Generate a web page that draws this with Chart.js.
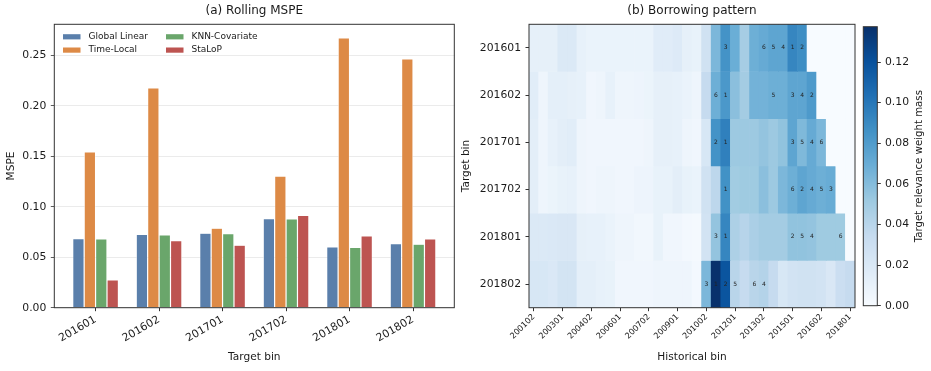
<!DOCTYPE html>
<html>
<head>
<meta charset="utf-8">
<script src="https://cdn.jsdelivr.net/npm/chart.js@4.4.1/dist/chart.umd.min.js"></script>
<style>
  body { margin: 0; background: #fff; }
  #wrap { position: relative; width: 931px; height: 371px; }
  canvas { position: absolute; top: 0; }
</style>
</head>
<body>
<div id="wrap">
  <canvas id="mspe" width="465" height="371" style="left:0"></canvas>
  <canvas id="borrow" width="405" height="371" style="left:455px"></canvas>
  <canvas id="cbar" width="76" height="371" style="left:855px"></canvas>
</div>
<script>
// ---- panel (a) data
const targets = ['201601', '201602', '201701', '201702', '201801', '201802'];
const globalLinear = [0.0685, 0.0728, 0.0738, 0.0884, 0.0603, 0.0636];
const timeLocal = [0.1546, 0.2179, 0.0788, 0.1305, 0.2675, 0.2467];
const knnCovariate = [0.0682, 0.0722, 0.0735, 0.0881, 0.0599, 0.0629];
const staLoP = [0.0275, 0.0666, 0.0619, 0.0914, 0.0712, 0.0682];
const mspeTicks = [0, 0.05, 0.10, 0.15, 0.20, 0.25];

// ---- panel (b) data
const histBins = ['200102', '200201', '200202', '200301', '200302', '200401', '200402', '200501', '200502',
  '200601', '200602', '200701', '200702', '200801', '200802', '200901', '200902', '201001', '201002',
  '201101', '201102', '201201', '201202', '201301', '201302', '201401', '201402', '201501', '201502',
  '201601', '201602', '201701', '201702', '201801'];
const weights = [
  [.012, .012, .012, .019, .019, .011, .009, .009, .009, .009, .009, .009, .009, .016, .016, .018, .012,
   .010, .027, .063, .085, .069, .048, .068, .071, .074, .074, .092, .088, 0, 0, 0, 0, 0],
  [.015, .006, .013, .013, .012, .011, .005, .006, .011, .006, .006, .007, .008, .012, .012, .011, .009,
   .006, .034, .068, .082, .058, .049, .066, .066, .068, .068, .074, .074, .081, 0, 0, 0, 0],
  [.014, .006, .011, .014, .015, .006, .005, .005, .005, .005, .005, .005, .006, .012, .012, .011, .006,
   .005, .022, .085, .095, .052, .052, .052, .055, .052, .056, .074, .062, .071, .063, 0, 0, 0],
  [.014, .006, .008, .010, .011, .006, .005, .006, .006, .005, .005, .007, .007, .010, .010, .014, .010,
   .009, .027, .038, .086, .050, .051, .051, .058, .052, .063, .068, .074, .071, .068, .070, 0, 0],
  [.019, .019, .020, .021, .021, .012, .011, .011, .009, .006, .006, .004, .004, .010, .005, .005, .003,
   .002, .026, .055, .092, .045, .041, .046, .049, .049, .049, .056, .056, .055, .051, .051, .051, 0],
  [.022, .022, .020, .025, .025, .013, .013, .011, .010, .005, .005, .005, .005, .006, .006, .006, .006,
   .003, .063, .137, .118, .040, .034, .040, .042, .034, .022, .026, .027, .027, .026, .021, .031, .034]
];
// historical bins ranked 1..6 for each target bin
const topBins = [
  ['201501', '201502', '201102', '201402', '201401', '201302'],
  ['201102', '201601', '201501', '201502', '201401', '201101'],
  ['201102', '201101', '201501', '201601', '201502', '201602'],
  ['201102', '201502', '201701', '201601', '201602', '201501'],
  ['201102', '201501', '201101', '201601', '201502', '201702'],
  ['201101', '201102', '201002', '201302', '201201', '201301']
];
const vmax = 0.1374;
const weightTicks = [0, 0.02, 0.04, 0.06, 0.08, 0.10, 0.12];

Chart.defaults.font.family = '"DejaVu Sans", sans-serif';
Chart.defaults.color = '#1a1a1a';

const bluesStops = ['#f7fbff', '#deebf7', '#c6dbef', '#9ecae1', '#6baed6', '#4292c6', '#2171b5', '#08519c', '#08306b'];
function hexRgb(h) { return [1, 3, 5].map(i => parseInt(h.slice(i, i + 2), 16)); }
function bluesAt(t) {
  t = Math.max(0, Math.min(1, t)) * 8;
  const i = Math.min(7, Math.floor(t)), f = t - i;
  const a = hexRgb(bluesStops[i]), b = hexRgb(bluesStops[i + 1]);
  return 'rgb(' + a.map((v, j) => Math.round(v + (b[j] - v) * f)).join(',') + ')';
}

const frame = {
  id: 'frame',
  afterDatasetsDraw(chart) {
    const {ctx, chartArea: a} = chart;
    ctx.save();
    ctx.strokeStyle = '#333';
    ctx.lineWidth = 1;
    ctx.strokeRect(a.left, a.top, a.right - a.left, a.bottom - a.top);
    ctx.restore();
  }
};

const mspeLegend = {
  id: 'mspeLegend',
  afterDraw(chart) {
    const {ctx, chartArea: a} = chart;
    ctx.save();
    ctx.font = '9px "DejaVu Sans"';
    ctx.textBaseline = 'middle';
    chart.data.datasets.forEach((ds, i) => {
      const x = a.left + 8.7 + Math.floor(i / 2) * 103;
      const y = a.top + 12.5 + (i % 2) * 13.3;
      ctx.fillStyle = ds.backgroundColor;
      ctx.fillRect(x, y - 2.6, 17.5, 5.2);
      ctx.fillStyle = '#1a1a1a';
      ctx.fillText(ds.label, x + 25.5, y);
    });
    ctx.restore();
  }
};

const rankLabels = {
  id: 'rankLabels',
  afterDatasetsDraw(chart) {
    const {ctx, scales: {x, y}} = chart;
    ctx.save();
    ctx.font = '6px "DejaVu Sans"';
    ctx.fillStyle = '#222';
    ctx.textAlign = 'center';
    ctx.textBaseline = 'middle';
    topBins.forEach((bins, k) => bins.forEach((b, r) => {
      ctx.fillText(String(r + 1), x.getPixelForValue(histBins.indexOf(b)), y.getPixelForValue(k + 0.5));
    }));
    ctx.restore();
  }
};

const cbarLabel = {
  id: 'cbarLabel',
  afterDraw(chart) {
    const {ctx, chartArea: a} = chart;
    ctx.save();
    ctx.translate(64, (a.top + a.bottom) / 2);
    ctx.rotate(-Math.PI / 2);
    ctx.font = '10.2px "DejaVu Sans"';
    ctx.fillStyle = '#1a1a1a';
    ctx.textAlign = 'center';
    ctx.textBaseline = 'middle';
    ctx.fillText('Target relevance weight mass', 0, 0);
    ctx.restore();
  }
};

const titleOpts = (text) => ({
  display: true, text: text, fullSize: false,
  font: {size: 12, weight: 'normal'}, color: '#1a1a1a',
  padding: {top: 3.6, bottom: 6.3}
});

// ---- (a) Rolling MSPE
const series = [
  ['Global Linear', globalLinear, '#5a7fab'],
  ['Time-Local', timeLocal, '#dd8a46'],
  ['KNN-Covariate', knnCovariate, '#6aa66b'],
  ['StaLoP', staLoP, '#bd5451']
];

new Chart(document.getElementById('mspe'), {
  type: 'bar',
  data: {
    datasets: series.map(([name, vals, col]) => ({
      label: name,
      data: targets.map((t, i) => ({x: i, y: vals[i]})),
      backgroundColor: col
    }))
  },
  options: {
    responsive: false,
    animation: false,
    layout: {padding: {left: 0, right: 10.7, top: 0, bottom: 0}},
    datasets: {bar: {categoryPercentage: 0.72, barPercentage: 1, borderColor: '#fff', borderWidth: 0.6}},
    plugins: {
      legend: {display: false},
      tooltip: {enabled: false},
      title: titleOpts('(a) Rolling MSPE')
    },
    scales: {
      x: {
        type: 'linear', min: -0.65, max: 5.65, offset: false,
        afterBuildTicks: s => { s.ticks = targets.map((t, i) => ({value: i})); },
        afterFit: s => { s.height = 63.3; },
        ticks: {callback: v => targets[v], minRotation: 30, maxRotation: 30, font: {size: 10.8}, padding: 2},
        grid: {offset: false, drawOnChartArea: false, tickLength: 3.5, tickColor: '#333'},
        border: {display: false},
        title: {display: true, text: 'Target bin', font: {size: 10.6}, padding: {top: 0, bottom: 7.5}}
      },
      y: {
        min: 0, max: 0.281,
        afterBuildTicks: s => { s.ticks = mspeTicks.map(v => ({value: v})); },
        afterFit: s => { s.width = 54.3; },
        ticks: {callback: v => v.toFixed(2), font: {size: 10.8}, padding: 4.5},
        grid: {color: '#e6e6e6', lineWidth: 0.8, tickLength: 3.5, tickColor: '#333'},
        border: {display: false},
        title: {display: true, text: 'MSPE', font: {size: 10.6}, padding: {top: 4.5, bottom: 0}}
      }
    }
  },
  plugins: [frame, mspeLegend]
});

// ---- (b) Borrowing pattern
new Chart(document.getElementById('borrow'), {
  type: 'bar',
  data: {
    labels: histBins,
    datasets: targets.map((row, k) => ({
      label: row,
      data: histBins.map(() => [k, k + 1]),
      backgroundColor: c => bluesAt(weights[k][c.dataIndex] / vmax),
      grouped: false
    }))
  },
  options: {
    responsive: false,
    animation: false,
    layout: {padding: {left: 0, right: 5, top: 0, bottom: 0}},
    datasets: {bar: {categoryPercentage: 1, barPercentage: 1, borderWidth: 0}},
    plugins: {
      legend: {display: false},
      tooltip: {enabled: false},
      title: titleOpts('(b) Borrowing pattern')
    },
    scales: {
      x: {
        offset: true,
        afterFit: s => { s.height = 63.3; },
        ticks: {
          autoSkip: false, minRotation: 45, maxRotation: 45, font: {size: 8.2}, padding: 1,
          callback: (v, i) => (i % 3 === 0 ? histBins[i] : '')
        },
        grid: {
          offset: false, drawOnChartArea: false, tickLength: 3.5,
          tickColor: c => (c.index % 3 === 0 ? '#333' : 'rgba(0,0,0,0)')
        },
        border: {display: false},
        title: {display: true, text: 'Historical bin', font: {size: 10.6}, padding: {top: 0, bottom: 7.5}}
      },
      y: {
        type: 'linear', min: 0, max: 6, reverse: true,
        afterBuildTicks: s => { s.ticks = targets.map((t, k) => ({value: k + 0.5})); },
        afterFit: s => { s.width = 74; },
        ticks: {callback: v => targets[Math.floor(v)], font: {size: 10.8}, padding: 4.5},
        grid: {drawOnChartArea: false, tickLength: 3.5, tickColor: '#333'},
        border: {display: false},
        title: {display: true, text: 'Target bin', font: {size: 10.6}, padding: {top: 4.7, bottom: 0}}
      }
    }
  },
  plugins: [frame, rankLabels]
});

// ---- colorbar
new Chart(document.getElementById('cbar'), {
  type: 'bar',
  data: {
    labels: [''],
    datasets: [{
      data: [[0, vmax]],
      backgroundColor: c => {
        const ch = c.chart, y = ch.scales.y;
        if (!ch.chartArea || !y) return bluesStops[4];
        const g = ch.ctx.createLinearGradient(0, y.getPixelForValue(0), 0, y.getPixelForValue(vmax));
        bluesStops.forEach((col, i) => g.addColorStop(i / 8, col));
        return g;
      }
    }]
  },
  options: {
    responsive: false,
    animation: false,
    layout: {padding: {left: 8.3, right: 0, top: 26.7, bottom: 65.3}},
    datasets: {bar: {categoryPercentage: 1, barPercentage: 1, borderWidth: 0}},
    plugins: {legend: {display: false}, tooltip: {enabled: false}},
    scales: {
      x: {display: false},
      y: {
        position: 'right', min: 0, max: vmax,
        afterBuildTicks: s => { s.ticks = weightTicks.map(v => ({value: v})); },
        afterFit: s => { s.width = 53.7; },
        ticks: {callback: v => v.toFixed(2), font: {size: 10.8}, padding: 4.2},
        grid: {drawOnChartArea: false, tickLength: 3.5, tickColor: '#333'},
        border: {display: false}
      }
    }
  },
  plugins: [frame, cbarLabel]
});
</script>
</body>
</html>
